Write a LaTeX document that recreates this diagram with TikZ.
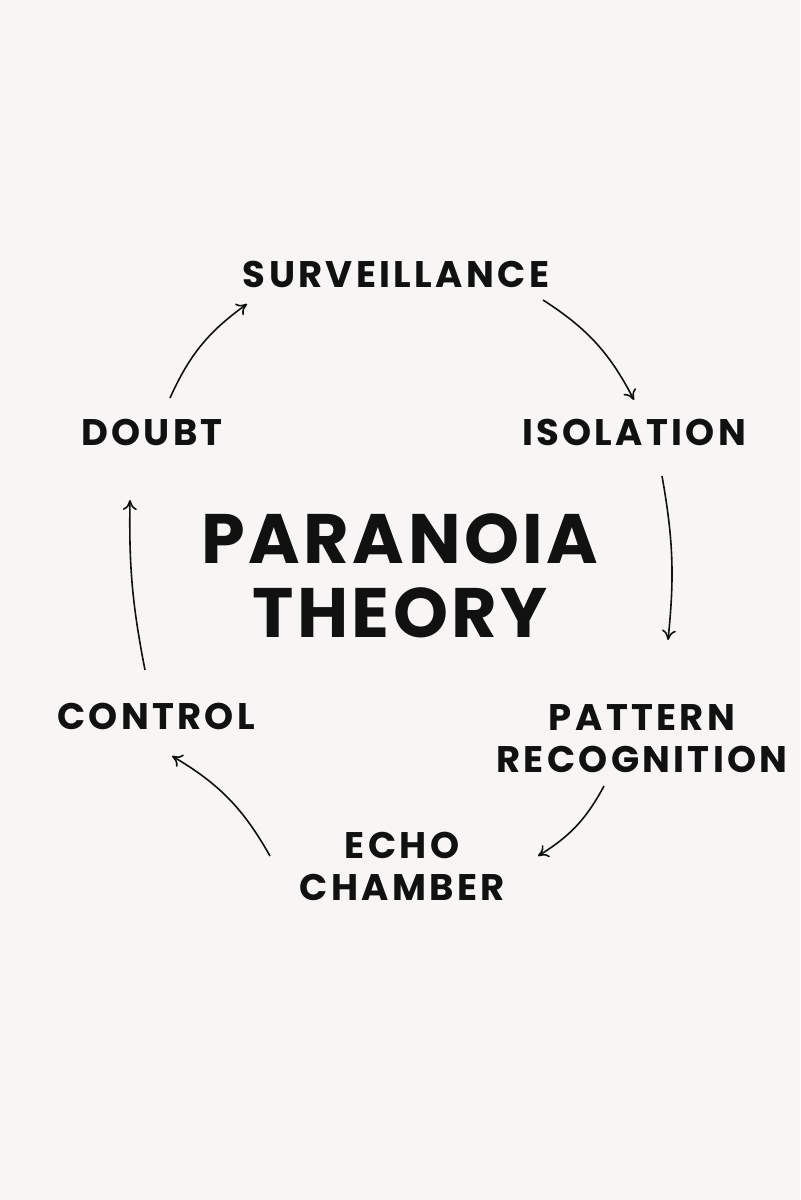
\documentclass[tikz,border=0pt]{standalone}
\usepackage{fontspec}
\setmainfont{Poppins}[LetterSpace=9]
\usetikzlibrary{arrows.meta}
\definecolor{bg}{HTML}{F7F6F4}
\definecolor{ink}{HTML}{111111}
\tikzset{lbl/.style={font=\fontsize{18.5}{21}\selectfont\bfseries, text=ink, align=center, inner sep=0pt},
 ttl/.style={font=\fontsize{35}{37}\selectfont\bfseries\addfontfeatures{LetterSpace=5}, text=ink, align=center, inner sep=0pt},
 arr/.style={draw=ink, line width=0.8pt, -{To[length=5pt,width=7pt]}}}
\begin{document}
\begin{tikzpicture}[x=0.5pt,y=-0.5pt]
\fill[bg] (0,0) rectangle (800,1200);
\useasboundingbox (0,0) rectangle (800,1200);
\node[lbl] (surv) at (396,274) {SURVEILLANCE};
\node[lbl] (doubt) at (152,432) {DOUBT};
\node[lbl] (iso) at (634,432) {ISOLATION};
\node[ttl] (title) at (400,576) {PARANOIA\\THEORY};
\node[lbl] (pat) at (642,739) {PATTERN\\RECOGNITION};
\node[lbl] (echo) at (402,866) {ECHO\\CHAMBER};
\node[lbl] (ctrl) at (156,716) {CONTROL};
\coordinate (a1) at (170,398); \coordinate (b1) at (247,304);
\coordinate (a2) at (543,300); \coordinate (b2) at (634,400);
\coordinate (a3) at (662,476); \coordinate (b3) at (668,640);
\coordinate (a4) at (604,786); \coordinate (b4) at (538,856);
\coordinate (a5) at (270,856); \coordinate (b5) at (172,756);
\coordinate (a6) at (145,670); \coordinate (b6) at (130,500);
\draw[arr] (a1) to[bend left=15] (b1);
\draw[arr] (a2) to[bend left=15] (b2);
\draw[arr] (a3) to[bend left=8] (b3);
\draw[arr] (a4) to[bend left=15] (b4);
\draw[arr] (a5) to[bend right=15] (b5);
\draw[arr] (a6) to[bend left=6] (b6);
\end{tikzpicture}
\end{document}
